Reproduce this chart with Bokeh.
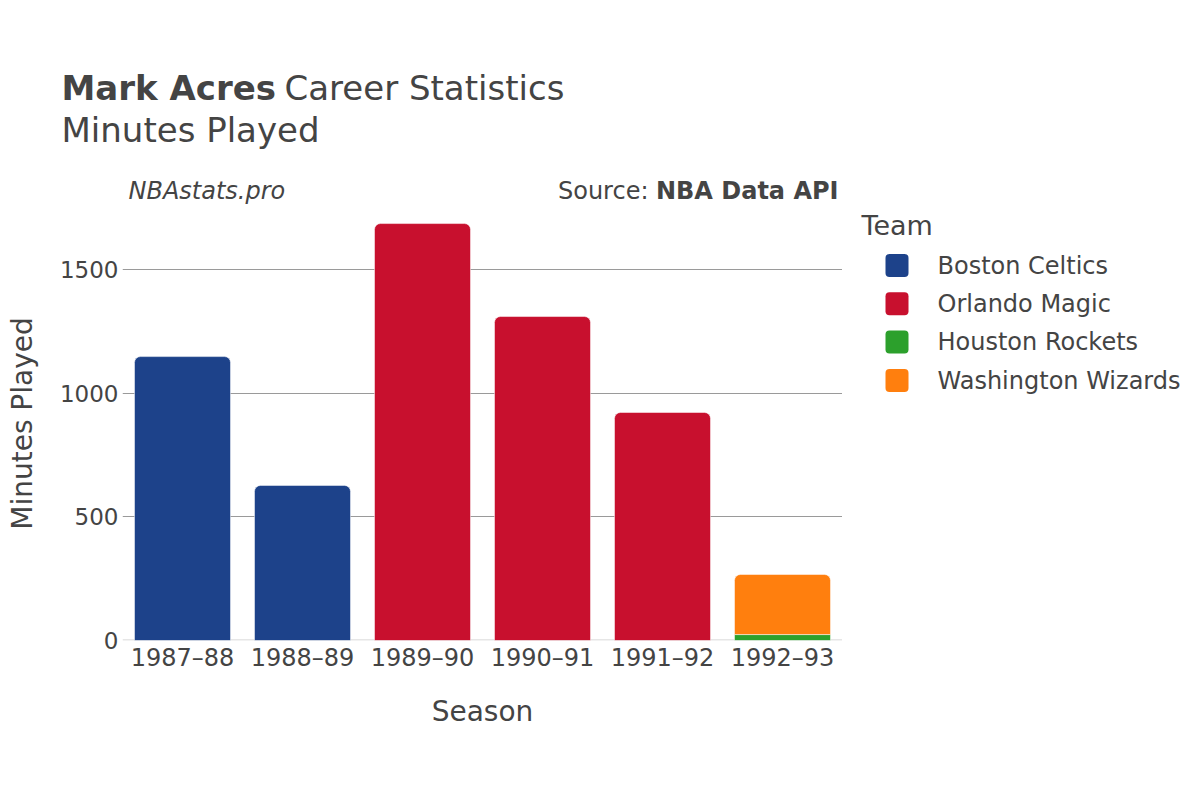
from bokeh.plotting import figure
from bokeh.models import ColumnDataSource, FactorRange, Range1d, FixedTicker, Span
from bokeh.layouts import column, row
from bokeh.core.properties import value
from bokeh.embed import file_html
from bokeh.resources import INLINE

seasons = ["1987–88", "1988–89", "1989–90", "1990–91", "1991–92", "1992–93"]
teams = ["Boston Celtics", "Orlando Magic", "Houston Rockets", "Washington Wizards"]
team_colors = ["#1d428a", "#c8102e", "#2ca02c", "#ff7f0e"]
boston_minutes = [1148, 627, 0, 0, 0, 0]
orlando_minutes = [0, 0, 1686, 1310, 922, 0]
houston_minutes = [0, 0, 0, 0, 0, 24]
washington_minutes = [0, 0, 0, 0, 0, 243]
y_ticks = [0, 500, 1000, 1500]

team_minutes = [boston_minutes, orlando_minutes, houston_minutes, washington_minutes]

TXT = "#444444"
FONT = "DejaVu Sans"
W, H = 1200, 800
TOP_H = 206      # height of the title strip (= top of the chart frame)
CHART_W = 842    # right edge of the chart frame
FRAME_BOTTOM = 640
Y_MAX = 1755     # value at the frame top


def blank(width, height, x0, x1, y_bottom, y_top):
    f = figure(width=width, height=height, x_range=Range1d(x0, x1),
               y_range=Range1d(y_bottom, y_top), output_backend="svg",
               toolbar_location=None, x_axis_type=None, y_axis_type=None,
               min_border=0, min_border_left=0, min_border_right=0,
               min_border_top=0, min_border_bottom=0)
    f.outline_line_color = None
    f.grid.visible = False
    f.background_fill_color = "white"
    f.border_fill_color = "white"
    return f


def txt(f, x, y, text, size, style="normal", align="left"):
    # baseline y; the text glyph sits ~0.36em lower than the requested alphabetic y
    px = float(size.replace("px", ""))
    f.text(x=[x], y=[y - 0.36 * px], text=[text], text_font=value(FONT),
           text_font_size=size, text_font_style=style, text_color=TXT,
           text_align=align, text_baseline="alphabetic")


# ---- title strip ----
top = blank(W, TOP_H, 0, W, TOP_H, 0)
txt(top, 61, 100, "Mark Acres", "34px", "bold")
txt(top, 284, 100, "Career Statistics", "34px")
txt(top, 61, 142, "Minutes Played", "34px")
txt(top, 128, 199, "NBAstats.pro", "24px", "italic")
txt(top, 838, 199, "NBA Data API", "24px", "bold", "right")
txt(top, 648, 199, "Source:", "24px", "normal", "right")

# ---- main chart ----
p = figure(width=CHART_W, height=H - TOP_H, x_range=FactorRange(*seasons),
           y_range=Range1d(0, Y_MAX), output_backend="svg",
           toolbar_location=None, min_border_left=122, min_border_right=0,
           min_border_top=0, min_border_bottom=H - FRAME_BOTTOM)
p.outline_line_color = None
p.background_fill_color = "white"
p.border_fill_color = "white"

p.add_layout(Span(location=0, dimension="width", line_color="#e6e6e6",
                  line_width=3, level="underlay"))

base = [0] * len(seasons)
for ti, (team, col, vals) in enumerate(zip(teams, team_colors, team_minutes)):
    xs, bots, tops = [], [], []
    top_most = True
    for si, v in enumerate(vals):
        if v <= 0:
            continue
        if any(team_minutes[tj][si] > 0 for tj in range(ti + 1, len(teams))):
            top_most = False
        xs.append(seasons[si])
        bots.append(base[si])
        tops.append(base[si] + v)
        base[si] += v
    src = ColumnDataSource(dict(x=xs, bottom=bots, top=tops))
    p.vbar(x="x", bottom="bottom", top="top", width=0.8, source=src,
           fill_color=col, line_color="white", line_width=0.5,
           border_radius=(6, 6, 0, 0) if top_most else 0)

p.xgrid.grid_line_color = None
p.ygrid.grid_line_color = "#9a9a9a"
p.ygrid.grid_line_width = 1
p.ygrid.ticker = FixedTicker(ticks=[t for t in y_ticks if t > 0])
p.yaxis.ticker = FixedTicker(ticks=y_ticks)

for ax in (p.xaxis[0], p.yaxis[0]):
    ax.axis_line_color = None
    ax.major_tick_line_color = None
    ax.minor_tick_line_color = None
    ax.major_tick_out = 0
    ax.major_tick_in = 0
    ax.major_label_text_font = FONT
    ax.major_label_text_color = TXT
    ax.axis_label_text_font = FONT
    ax.axis_label_text_color = TXT
    ax.axis_label_text_font_style = "normal"
    ax.axis_label_text_font_size = "28px"

p.xaxis.axis_label = "Season"
p.xaxis.major_label_text_font_size = "24px"
p.xaxis.major_label_standoff = 3
p.xaxis.axis_label_standoff = 20
p.yaxis.axis_label = "Minutes Played"
p.yaxis.major_label_text_font_size = "23px"
p.yaxis.major_label_standoff = 4
p.yaxis.axis_label_standoff = 18

# ---- legend strip (its frame is aligned with the chart frame) ----
leg = blank(W - CHART_W, H - TOP_H, CHART_W, W, FRAME_BOTTOM, TOP_H)
txt(leg, 861, 235, "Team", "27px")
row_y = [265 + 38.3 * i for i in range(len(teams))]
leg.quad(left=[885] * len(teams), right=[908] * len(teams),
         top=[y - 11.5 for y in row_y], bottom=[y + 11.5 for y in row_y],
         fill_color=team_colors, line_color=None, border_radius=4)
for t, y in zip(teams, row_y):
    txt(leg, 937, y + 8.8, t, "24px")

layout = column(top, row(p, leg, spacing=0), spacing=0)
open("out.html", "w").write(file_html(layout, INLINE))
